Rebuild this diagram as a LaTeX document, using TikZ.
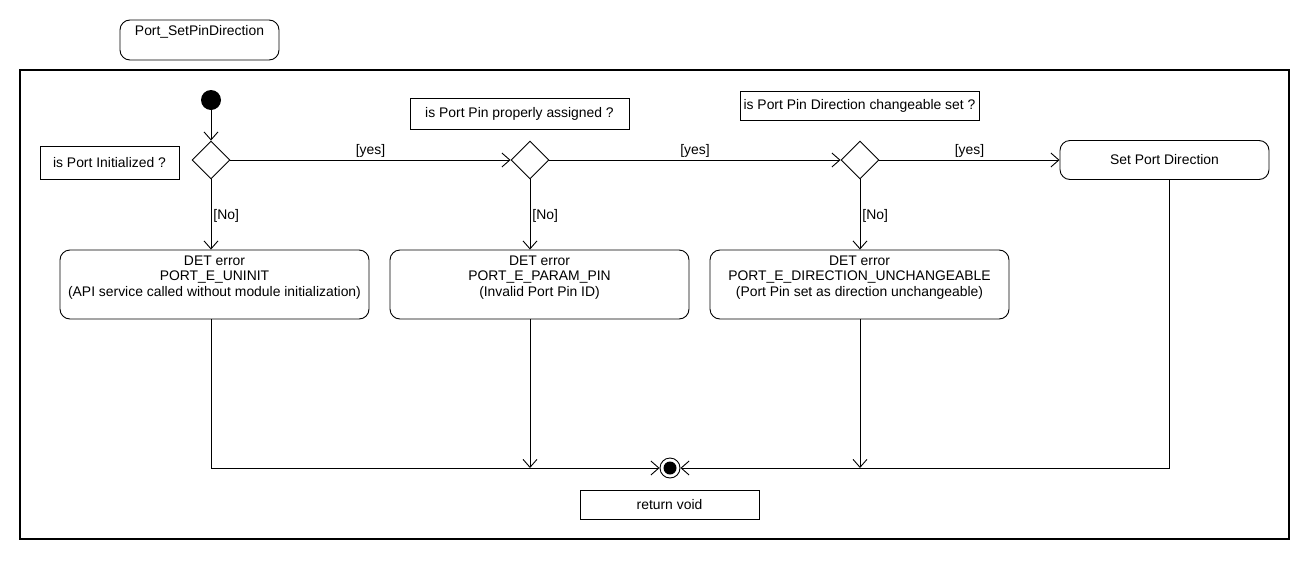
\documentclass[tikz,border=0pt]{standalone}
\usepackage{fontspec}
\setmainfont{Liberation Sans}
\usetikzlibrary{arrows.meta,shapes.geometric}
\begin{document}
\begin{tikzpicture}[x=1pt,y=-1pt, line width=0.9pt,
  every node/.style={font=\fontsize{13.9}{15.5}\selectfont},
  rbox/.style={draw, rounded corners=10pt, inner sep=0pt},
  nbox/.style={draw, inner sep=0pt},
  dec/.style={draw, diamond, minimum width=38pt, minimum height=38pt, inner sep=0pt},
  flow/.style={-{Straight Barb[length=8pt,width=14pt]}},
  lbl/.style={inner sep=2pt}]
\useasboundingbox (0,0) rectangle (1310,560);
\node[draw, line width=1.1pt, minimum width=1269pt, minimum height=469pt, inner sep=0pt] (frame) at (654.5,304.5) {};
% title
\node[rbox, minimum width=159pt, minimum height=40pt] (title) at (199.5,40) {};
\node (titletext) at (199.5,32) {Port\_SetPinDirection};
% start
\node[circle, fill=black, minimum size=20pt, inner sep=0pt] (start) at (211,100) {};
% decisions
\node[dec] (d1) at (211,160) {};
\node[dec] (d2) at (530,160) {};
\node[dec] (d3) at (860,160) {};
% notes
\node[nbox, minimum width=139pt, minimum height=33pt] (n1) at (109.5,162.5) {is Port Initialized ?};
\node[nbox, minimum width=219pt, minimum height=31pt] (n2) at (519.5,113.5) {is Port Pin properly assigned ?};
\node[nbox, minimum width=239pt, minimum height=29pt] (n3) at (859.5,105.5) {is Port Pin Direction changeable set ?};
% set
\node[rbox, minimum width=209pt, minimum height=39pt] (set) at (1164.5,160) {Set Port Direction};
% DET boxes
\node[rbox, minimum width=309pt, minimum height=69pt] (det1) at (214.5,284.5) {};
\node[align=center] (t1) at (214.5,277.5) {DET error\\PORT\_E\_UNINIT\\(API service called without module initialization)};
\node[rbox, minimum width=299pt, minimum height=69pt] (det2) at (539.5,284.5) {};
\node[align=center] (t2) at (539.5,277.5) {DET error\\PORT\_E\_PARAM\_PIN\\(Invalid Port Pin ID)};
\node[rbox, minimum width=299pt, minimum height=69pt] (det3) at (859.5,284.5) {};
\node[align=center] (t3) at (859.5,277.5) {DET error\\PORT\_E\_DIRECTION\_UNCHANGEABLE\\(Port Pin set as direction unchangeable)};
% final
\node[circle, draw, minimum size=20pt, inner sep=0pt] (final) at (670,468) {};
\node[circle, fill=black, minimum size=13pt, inner sep=0pt] (finalin) at (670,468) {};
\node[nbox, minimum width=179pt, minimum height=29pt] (ret) at (669.5,504.5) {return void};
\coordinate (setout) at (1169,179.5);
% connectors
\draw[flow] (start) -- (d1);
\draw[flow] (d1) -- node[above, lbl] {[yes]} (d2);
\draw[flow] (d2) -- node[above, lbl] {[yes]} (d3);
\draw[flow] (d3) -- node[above, lbl] {[yes]} (set);
\draw[flow] (d1.south) -- node[right, lbl, pos=0.52] {[No]} (d1.south |- det1.north);
\draw[flow] (d2.south) -- node[right, lbl, pos=0.52] {[No]} (d2.south |- det2.north);
\draw[flow] (d3.south) -- node[right, lbl, pos=0.52] {[No]} (d3.south |- det3.north);
\draw[flow] (d1.south |- det1.south) -- (d1.south |- final) -- (final);
\draw[flow] (d2.south |- det2.south) -- (d2.south |- final);
\draw[flow] (d3.south |- det3.south) -- (d3.south |- final);
\draw[flow] (setout) -- (setout |- final) -- (final);
\end{tikzpicture}
\end{document}
